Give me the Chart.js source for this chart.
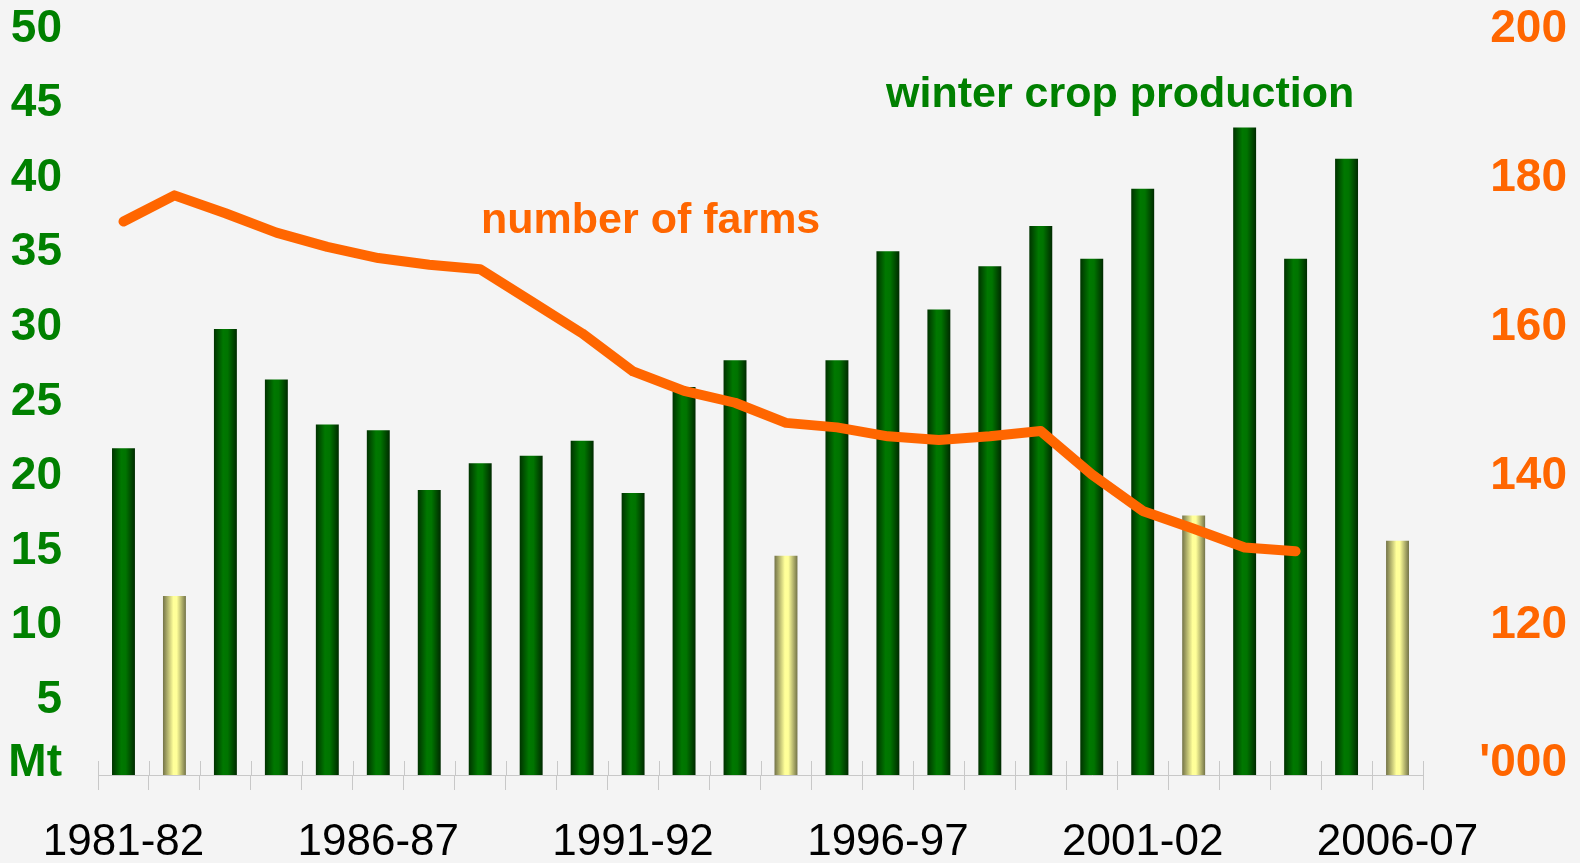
<!DOCTYPE html>
<html>
<head>
<meta charset="utf-8">
<script src="https://cdn.jsdelivr.net/npm/chart.js@4/dist/chart.umd.min.js"></script>
<style>
  html, body { margin: 0; padding: 0; background: #f4f4f4; }
  #wrap { width: 1580px; height: 863px; position: relative; }
</style>
</head>
<body>
<div id="wrap"><canvas id="chart"></canvas></div>
<script>
// seasons 1981-82 .. 2006-07
const seasons = [
  '1981-82', '1982-83', '1983-84', '1984-85', '1985-86', '1986-87', '1987-88',
  '1988-89', '1989-90', '1990-91', '1991-92', '1992-93', '1993-94', '1994-95',
  '1995-96', '1996-97', '1997-98', '1998-99', '1999-00', '2000-01', '2001-02',
  '2002-03', '2003-04', '2004-05', '2005-06', '2006-07'
];
// winter crop production (Mt)
const cropMt = [
  21.9, 12.0, 29.9, 26.5, 23.5, 23.1, 19.1, 20.9, 21.4, 22.4, 18.9, 26.0, 27.8,
  14.7, 27.8, 35.1, 31.2, 34.1, 36.8, 34.6, 39.3, 17.4, 43.4, 34.6, 41.3, 15.7
];
// drought seasons drawn in pale yellow
const droughtSeasons = ['1982-83', '1994-95', '2002-03', '2006-07'];
// number of farms ('000)
const farms = [
  174.2, 177.7, 175.3, 172.7, 170.8, 169.3, 168.4, 167.8, 163.5, 159.2, 154.1,
  151.5, 149.9, 147.2, 146.6, 145.4, 144.9, 145.4, 146.1, 140.3, 135.4, 133.0,
  130.5, 130.0, null, null
];
const labelledSeasons = ['1981-82', '1986-87', '1991-92', '1996-97', '2001-02', '2006-07'];

const GREEN = '#008000';
const ORANGE = '#ff6600';
const AXIS_GREY = '#c8c8c8';
const FONT = '"Liberation Sans", Arial, sans-serif';

// horizontal shaded fill for each bar, like a cylinder
const barShading = {
  id: 'barShading',
  beforeDatasetsDraw(chart) {
    const ctx = chart.ctx;
    const meta = chart.getDatasetMeta(0);
    meta.data.forEach((bar, i) => {
      const x0 = bar.x - bar.width / 2;
      const x1 = bar.x + bar.width / 2;
      const g = ctx.createLinearGradient(x0, 0, x1, 0);
      if (droughtSeasons.includes(seasons[i])) {
        g.addColorStop(0, '#737348');
        g.addColorStop(0.45, '#ffff99');
        g.addColorStop(0.6, '#ffff99');
        g.addColorStop(1, '#737348');
      } else {
        g.addColorStop(0, '#003300');
        g.addColorStop(0.4, '#007800');
        g.addColorStop(0.6, '#007400');
        g.addColorStop(1, '#002a00');
      }
      bar.options.backgroundColor = g;
    });
  }
};

// tick marks crossing the category axis, plus series captions
const decorations = {
  id: 'decorations',
  afterDraw(chart) {
    const ctx = chart.ctx;
    const x = chart.scales.x;
    const bottom = chart.chartArea.bottom;
    ctx.save();
    ctx.strokeStyle = AXIS_GREY;
    ctx.lineWidth = 1;
    for (let i = 0; i <= seasons.length; i++) {
      const px = Math.round(x.getPixelForValue(i - 0.5)) + 0.5;
      ctx.beginPath();
      ctx.moveTo(px, bottom - 14);
      ctx.lineTo(px, bottom);
      ctx.stroke();
    }
    ctx.font = 'bold 43px ' + FONT;
    ctx.textAlign = 'left';
    ctx.textBaseline = 'alphabetic';
    ctx.fillStyle = ORANGE;
    ctx.fillText('number of farms', 481, 233);
    ctx.fillStyle = GREEN;
    ctx.fillText('winter crop production', 886, 107);
    ctx.restore();
  }
};

// keep the plot area where the reference has it
function noOverflow(s) {
  s.paddingTop = 0;
  s.paddingBottom = 0;
  s.paddingLeft = 0;
  s.paddingRight = 0;
}

const ctx = document.getElementById('chart').getContext('2d');
new Chart(ctx, {
  data: {
    labels: seasons,
    datasets: [
      {
        type: 'bar',
        label: 'winter crop production',
        data: cropMt,
        yAxisID: 'y',
        order: 2,
        backgroundColor: c => droughtSeasons.includes(seasons[c.dataIndex]) ? '#ffff99' : '#007800',
        borderWidth: 0,
        barPercentage: 0.9,
        categoryPercentage: 0.5
      },
      {
        type: 'line',
        label: 'number of farms',
        data: farms,
        yAxisID: 'y2',
        order: 1,
        borderColor: ORANGE,
        borderWidth: 10,
        borderCapStyle: 'round',
        borderJoinStyle: 'round',
        pointRadius: 0,
        tension: 0,
        spanGaps: false
      }
    ]
  },
  options: {
    responsive: true,
    maintainAspectRatio: false,
    animation: false,
    layout: { padding: { top: 29, left: 0, right: 13, bottom: 0 } },
    plugins: {
      legend: { display: false },
      tooltip: { enabled: false }
    },
    scales: {
      x: {
        offset: true,
        grid: {
          display: true,
          offset: true,
          drawOnChartArea: false,
          drawTicks: true,
          tickLength: 15,
          color: AXIS_GREY,
          lineWidth: 1
        },
        border: { display: true, color: AXIS_GREY, width: 1 },
        ticks: {
          autoSkip: false,
          maxRotation: 0,
          padding: 26,
          color: '#000000',
          font: { family: FONT, size: 44 },
          callback: (v, i) => labelledSeasons.includes(seasons[i]) ? seasons[i] : ''
        },
        afterFit: s => { s.height = 88; noOverflow(s); }
      },
      y: {
        position: 'left',
        min: 0,
        max: 50,
        grid: { display: false, drawTicks: false },
        border: { display: false },
        ticks: {
          stepSize: 5,
          padding: 36,
          color: GREEN,
          font: { family: FONT, size: 46, weight: 'bold', lineHeight: 0.52 },
          callback: v => v === 0 ? ['Mt', ''] : String(v)
        },
        afterFit: s => { s.width = 98; noOverflow(s); }
      },
      y2: {
        position: 'right',
        min: 100,
        max: 200,
        grid: { display: false, drawTicks: false },
        border: { display: false },
        ticks: {
          stepSize: 20,
          padding: 44,
          crossAlign: 'far',
          color: ORANGE,
          font: { family: FONT, size: 46, weight: 'bold', lineHeight: 0.52 },
          callback: v => v === 100 ? ["'000", ''] : String(v)
        },
        afterFit: s => { s.width = 144; noOverflow(s); }
      }
    }
  },
  plugins: [barShading, decorations]
});
</script>
</body>
</html>
